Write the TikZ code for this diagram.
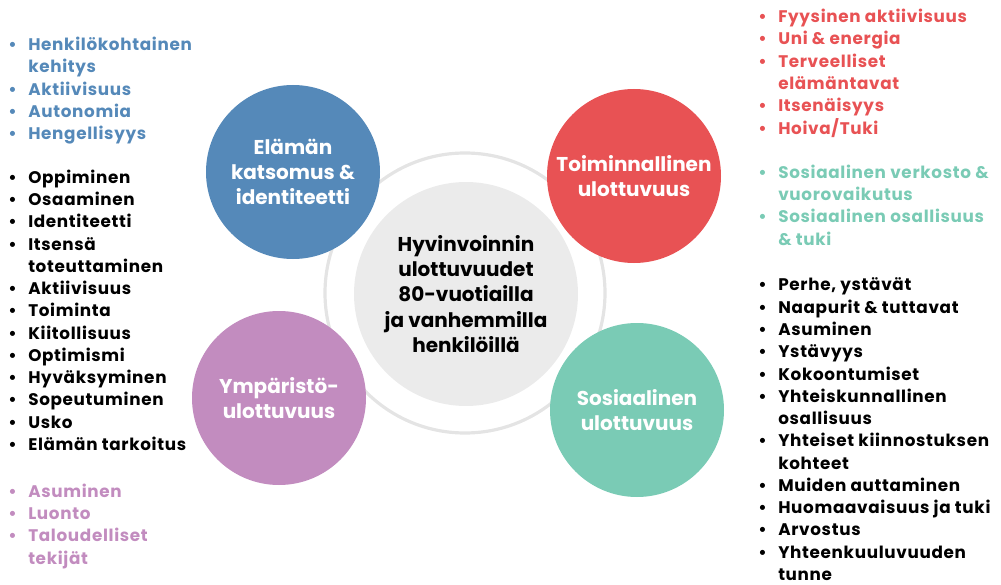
\documentclass[tikz,border=0pt]{standalone}
\usepackage{fontspec}
\setmainfont{Poppins}

\definecolor{idblue}{HTML}{5589B9}
\definecolor{funcred}{HTML}{E85254}
\definecolor{envpurple}{HTML}{C28CBF}
\definecolor{socteal}{HTML}{7ACBB5}
\definecolor{coregray}{HTML}{EBEBEB}
\definecolor{ringgray}{HTML}{E4E4E4}

% bullet line and continuation line
\newcommand\itm[1]{\hbox{\makebox[15pt][l]{\textbullet}#1}}
\newcommand\cnt[1]{\hbox{\hspace*{15pt}#1}}

\tikzset{
  dim/.style={circle, minimum size=130.5pt, inner sep=0pt, text=white, align=center,
    font=\bfseries\fontsize{15}{18.8}\selectfont},
  itemlist/.style={anchor=base west, inner sep=0pt,
    font=\bfseries\fontsize{12.6}{16.7}\selectfont\addfontfeatures{LetterSpace=4}}
}

\begin{document}
\begin{tikzpicture}[x=0.75pt, y=-0.75pt]
  \useasboundingbox (0,0) rectangle (1001,585);

  % rengas ja keskusympyra
  \node[circle, draw=ringgray, line width=2.4pt, minimum size=210pt, inner sep=0pt] (ring) at (465,293) {};
  \node[circle, fill=coregray, minimum size=168pt, inner sep=0pt, align=center,
    font=\bfseries\fontsize{15}{19}\selectfont] (core) at (466,294)
    {Hyvinvoinnin\\ulottuvuudet\\80-vuotiailla\\ja vanhemmilla\\henkilöillä};

  % ulottuvuudet
  \node[dim, fill=idblue] (identity) at (293,172) {Elämän\\katsomus \&\\identiteetti};
  \node[dim, fill=funcred] (functional) at (634,176) {Toiminnallinen\\ulottuvuus};
  \node[dim, fill=envpurple] (environment) at (279,398) {Ympäristö-\\ulottuvuus};
  \node[dim, fill=socteal] (social) at (637,410) {Sosiaalinen\\ulottuvuus};

  % vasemmat listat
  \node[itemlist, text=idblue] (identitylist) at (8,50.7) {\vtop{%
    \itm{Henkilökohtainen}\cnt{kehitys}\itm{Aktiivisuus}\itm{Autonomia}\itm{Hengellisyys}}};
  \node[itemlist] (lifelist) at (8,183.3) {\vtop{%
    \itm{Oppiminen}\itm{Osaaminen}\itm{Identiteetti}\itm{Itsensä}\cnt{toteuttaminen}%
    \itm{Aktiivisuus}\itm{Toiminta}\itm{Kiitollisuus}\itm{Optimismi}\itm{Hyväksyminen}%
    \itm{Sopeutuminen}\itm{Usko}\itm{Elämän tarkoitus}}};
  \node[itemlist, text=envpurple] (envlist) at (8,497.3) {\vtop{%
    \itm{Asuminen}\itm{Luonto}\itm{Taloudelliset}\cnt{tekijät}}};

  % oikeat listat
  \node[itemlist, text=funcred] (funclist) at (758,22.7) {\vtop{%
    \itm{Fyysinen aktiivisuus}\itm{Uni \& energia}\itm{Terveelliset}\cnt{elämäntavat}%
    \itm{Itsenäisyys}\itm{Hoiva/Tuki}}};
  \node[itemlist, text=socteal] (netlist) at (758,178.3) {\vtop{%
    \itm{Sosiaalinen verkosto \&}\cnt{vuorovaikutus}\itm{Sosiaalinen osallisuus}\cnt{\& tuki}}};
  \node[itemlist] (sociallist) at (758,291) {\vtop{%
    \itm{Perhe, ystävät}\itm{Naapurit \& tuttavat}\itm{Asuminen}\itm{Ystävyys}%
    \itm{Kokoontumiset}\itm{Yhteiskunnallinen}\cnt{osallisuus}%
    \itm{Yhteiset kiinnostuksen}\cnt{kohteet}\itm{Muiden auttaminen}%
    \itm{Huomaavaisuus ja tuki}\itm{Arvostus}\itm{Yhteenkuuluvuuden}\cnt{tunne}}};
\end{tikzpicture}
\end{document}
